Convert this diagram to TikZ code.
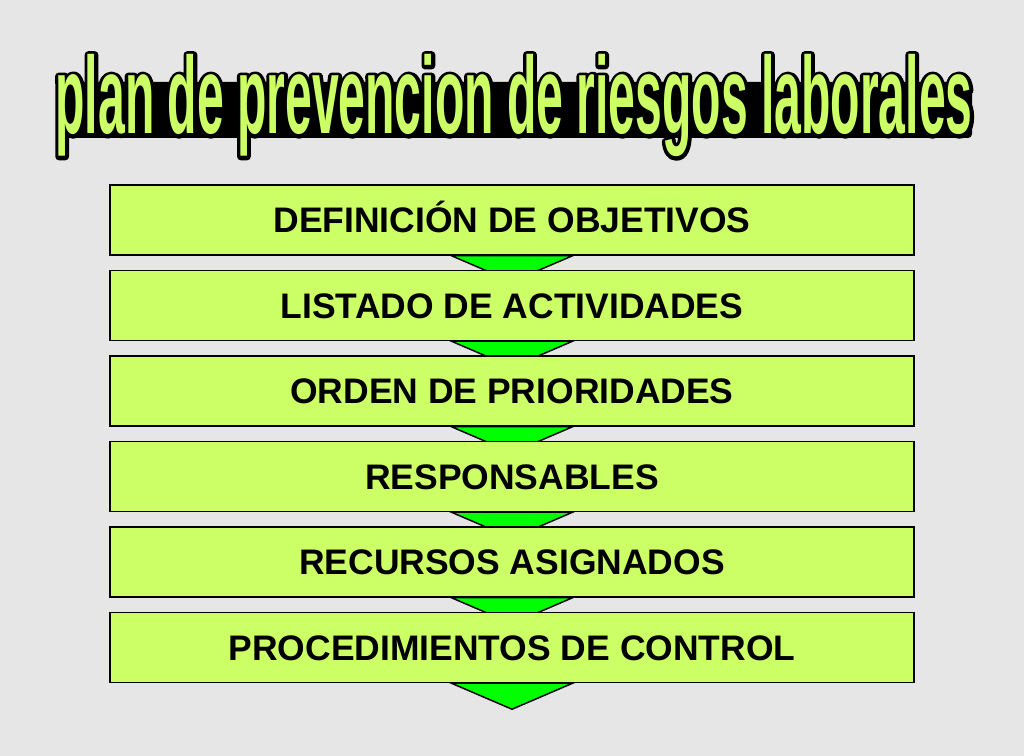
\documentclass[tikz,border=0pt]{standalone}
\usepackage{fontspec}
\setmainfont{Liberation Sans}
\newfontfamily\titlefill[FakeStretch=0.44]{Liberation Sans Bold}
\newfontfamily\titleedge[FakeStretch=0.44,FakeBold=6.5]{Liberation Sans Bold}
\usetikzlibrary{calc}
\definecolor{bggrey}{HTML}{E6E6E6}
\definecolor{boxgreen}{HTML}{CCFF66}
\definecolor{arrowgreen}{HTML}{00FF00}
\pgfdeclarelayer{bglayer}
\pgfdeclarelayer{arrowlayer}
\pgfsetlayers{bglayer,arrowlayer,main}
\tikzset{
  stepbox/.style={draw=black, fill=boxgreen, line width=1.1pt,
    minimum width=603pt, minimum height=52.5pt, inner sep=0pt,
    font=\bfseries\fontsize{26.6}{31}\selectfont, text height=19.2pt, text depth=0pt},
  chevron/.style={draw=black, fill=arrowgreen, line width=1.1pt, line join=miter},
  titletext/.style={inner sep=0pt, anchor=base}
}
\begin{document}
\begin{tikzpicture}[x=0.75pt,y=-0.75pt]
\begin{pgfonlayer}{bglayer}
  \fill[bggrey] (0,0) rectangle (1024,756);
\end{pgfonlayer}
\useasboundingbox (0,0) rectangle (1024,756);
% title
\fill[black, rounded corners=3pt] (57,82) rectangle (972,138);
\begin{scope}[line join=round, line cap=round]
\node[titletext, text=black, line join=round] (titleedge) at (514,134)
  {\titleedge\fontsize{82}{90}\selectfont plan de prevencion de riesgos laborales};
\end{scope}
\node[titletext, text=boxgreen] (title) at (514,134)
  {\titlefill\fontsize{82}{90}\selectfont plan de prevencion de riesgos laborales};
% boxes
\node[stepbox] (b1) at (512,220) {DEFINICIÓN DE OBJETIVOS};
\node[stepbox] (b2) at (512,305.5) {LISTADO DE ACTIVIDADES};
\node[stepbox] (b3) at (512,391) {ORDEN DE PRIORIDADES};
\node[stepbox] (b4) at (512,476.5) {RESPONSABLES};
\node[stepbox] (b5) at (512,562) {RECURSOS ASIGNADOS};
\node[stepbox] (b6) at (512,647.5) {PROCEDIMIENTOS DE CONTROL};
% chevrons
\begin{pgfonlayer}{arrowlayer}
\foreach \b in {b1,b2,b3,b4,b5,b6}{
  \draw[chevron] ($(\b.south)+(-60.5,0)$) -- ($(\b.south)+(0,26)$) -- ($(\b.south)+(60.5,0)$) -- cycle;
}
\end{pgfonlayer}
\end{tikzpicture}
\end{document}
